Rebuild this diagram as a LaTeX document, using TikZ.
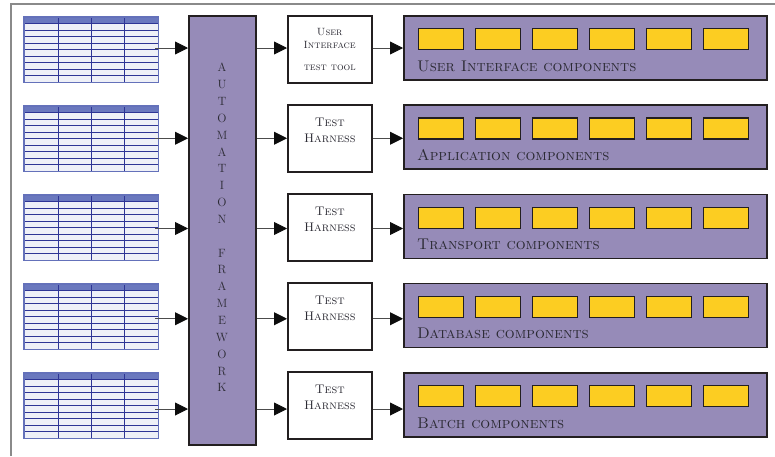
\documentclass[tikz,border=0pt]{standalone}
\usetikzlibrary{arrows.meta,calc}
\definecolor{fwpurple}{HTML}{968BB8}
\definecolor{compyellow}{HTML}{FCCD22}
\definecolor{hdrblue}{HTML}{6A78BE}
\definecolor{gridblue}{HTML}{2E3595}
\definecolor{rowfill}{HTML}{EEF0F7}
\definecolor{edgecol}{HTML}{231F20}
\definecolor{framegray}{HTML}{8A8A8A}
\definecolor{txtcol}{HTML}{2B2A33}
\begin{document}
\begin{tikzpicture}[x=1pt,y=-1pt,
  tablebox/.style={rectangle, draw=none, fill=rowfill, minimum width=134pt, minimum height=65pt, inner sep=0pt, anchor=north west},
  gridline/.style={draw=gridblue, line width=0.9pt},
  tableborder/.style={draw=hdrblue!90!gridblue, line width=1.1pt},
  fwbox/.style={draw=edgecol, line width=1.8pt, fill=fwpurple, minimum width=67pt, minimum height=429pt, inner sep=0pt, anchor=north west},
  toolbox/.style={draw=edgecol, line width=1.5pt, fill=white, minimum width=84pt, minimum height=67pt, inner sep=0pt, anchor=north west},
  panel/.style={draw=edgecol, line width=1.6pt, fill=fwpurple, minimum width=363pt, minimum height=64pt, inner sep=0pt, anchor=north west},
  comp/.style={draw=edgecol, line width=1.4pt, fill=compyellow, minimum width=45pt, minimum height=21pt, inner sep=0pt, anchor=north west},
  arr/.style={draw=black!70, line width=0.9pt, -{Triangle[length=13pt,width=13pt,color=black!95]}},
  panellabel/.style={anchor=base west, inner sep=0pt, text=txtcol, font=\fontsize{15.5}{17}\selectfont\scshape},
  tooltext/.style={anchor=north, inner sep=0pt, align=center, text=txtcol},
]
\useasboundingbox (0,0) rectangle (775,456);
% outer frame
\draw[framegray, line width=1.2pt] (11,456) -- (11,4) -- (775,4);

% automation framework
\node[fwbox] (fw) at (188,15) {};
\node[anchor=north, inner sep=0pt, align=center, text=txtcol,
      font=\fontsize{12}{16.85}\selectfont] (fwtext) at (222,63)
  {A\\U\\T\\O\\M\\A\\T\\I\\O\\N\\~\\F\\R\\A\\M\\E\\W\\O\\R\\K};

\foreach \i/\lab in {1/{User Interface components},2/{Application components},3/{Transport components},4/{Database components},5/{Batch components}}{
  \pgfmathsetmacro\ty{17+89*(\i-1)}
  \pgfmathsetmacro\by{15+89*(\i-1)}
  \pgfmathsetmacro\py{15+89.25*(\i-1)}
  \pgfmathsetmacro\ay{48+90.25*(\i-1)}
  % data table
  \node[tablebox] (t\i) at (24,\ty) {};
  \fill[hdrblue] (t\i.north west) rectangle ($(t\i.north east)+(0,6.5)$);
  \foreach \k in {1,...,9}
    \draw[gridline] ($(t\i.north west)+(0,{6.5*\k})$) -- ++(134,0);
  \foreach \c in {34,67,100}
    \draw[gridline] ($(t\i.north west)+(\c,0)$) -- ++(0,65);
  \draw[tableborder] (t\i.north west) rectangle (t\i.south east);
  % test tool box
  \node[toolbox] (b\i) at (287,\by) {};
  % component panel
  \node[panel] (p\i) at (403,\py) {};
  \foreach \j in {1,...,6}{
    \pgfmathsetmacro\cx{15+57*(\j-1)}
    \node[comp] (c\i-\j) at ($(p\i.north west)+(\cx,13)$) {};
  }
  \node[panellabel] (l\i) at ($(p\i.north west)+(14,56)$) {\lab};
  % connectors
  \coordinate (r\i) at (0,\ay);
  \draw[arr] ($(t\i.east |- r\i)+(-3,0)$) -- (fw.west |- r\i);
  \draw[arr] (fw.east |- r\i) -- (b\i.west |- r\i);
  \draw[arr] (b\i.east |- r\i) -- (p\i.west |- r\i);
}

% texts of the test boxes
\node[tooltext, font=\fontsize{10.5}{13}\selectfont\scshape] (bt1) at ($(b1.north)+(0,13.3)$)
  {User\\Interface\\[9pt]test tool};
\foreach \i in {2,...,5}
  \node[tooltext, font=\fontsize{12.5}{16}\selectfont\scshape] (bt\i) at ($(b\i.north)+(0,13.5)$)
    {Test\\Harness};
\end{tikzpicture}
\end{document}
